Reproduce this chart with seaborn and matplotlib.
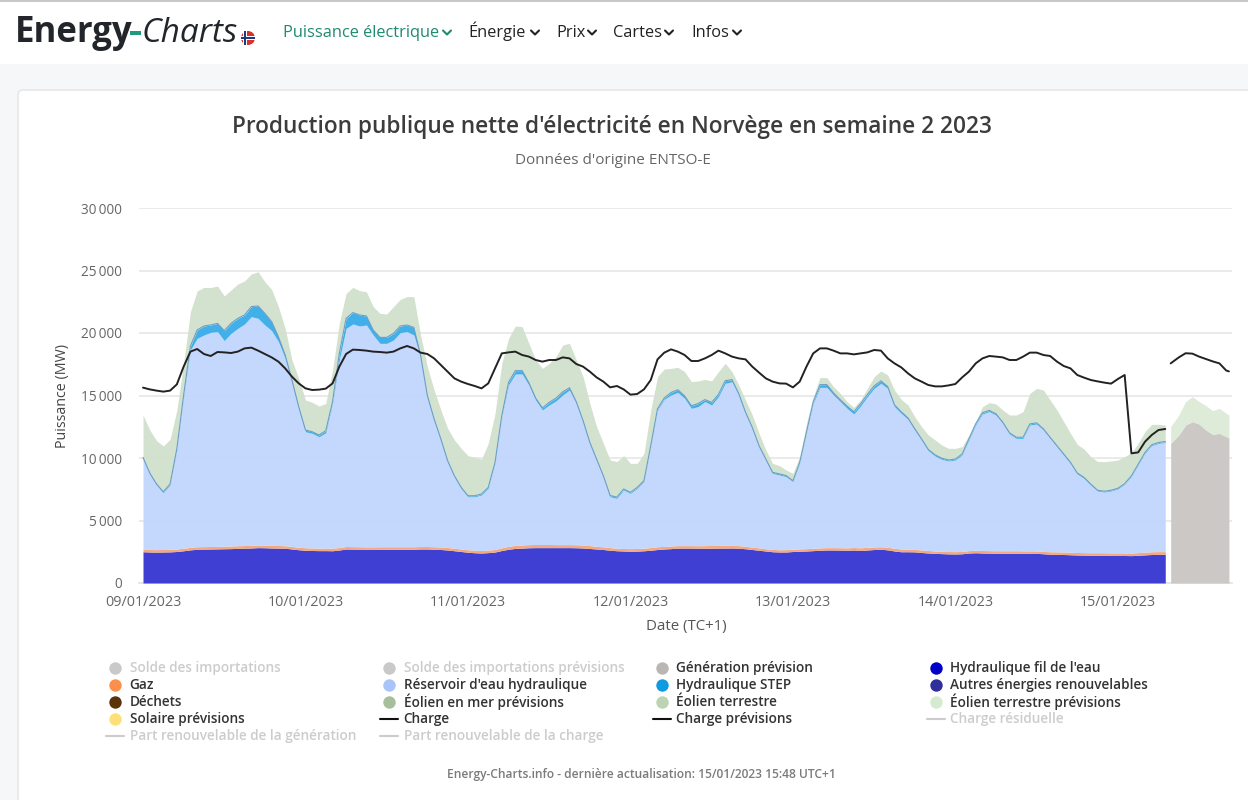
import numpy as np
import pandas as pd
import matplotlib
matplotlib.use('Agg')
import matplotlib.pyplot as plt
from matplotlib.patches import Circle, FancyBboxPatch, Rectangle
import seaborn as sns

# hourly values, MW, starting 09/01/2023 00:00
base_top = [2500,2480,2470,2480,2490,2520,2580,2650,2700,2710,
    2720,2730,2740,2750,2770,2790,2800,2830,2820,2800,
    2790,2780,2720,2660,2620,2600,2590,2590,2580,2640,
    2720,2710,2700,2690,2690,2700,2700,2700,2700,2700,
    2700,2720,2720,2700,2680,2640,2580,2520,2460,2420,
    2400,2430,2480,2600,2700,2770,2790,2820,2830,2830,
    2830,2830,2830,2830,2820,2800,2760,2720,2680,2620,
    2580,2560,2540,2550,2580,2620,2680,2720,2750,2790,
    2790,2790,2780,2780,2780,2790,2790,2800,2780,2740,
    2680,2620,2560,2500,2480,2480,2520,2540,2560,2590,
    2620,2640,2640,2630,2620,2640,2600,2640,2680,2700,
    2650,2560,2500,2500,2490,2440,2400,2370,2350,2330,
    2320,2340,2400,2420,2400,2390,2380,2380,2380,2380,
    2380,2370,2370,2340,2300,2290,2280,2260,2240,2230,
    2220,2220,2220,2210,2210,2200,2190,2220,2250,2280,
    2290,2290]
gas_top = [2700,2680,2670,2680,2690,2720,2780,2850,2900,2910,
    2920,2930,2940,2960,2980,3000,3010,3040,3030,3010,
    3000,2980,2920,2860,2820,2800,2790,2790,2780,2840,
    2920,2910,2900,2890,2890,2900,2900,2900,2900,2900,
    2900,2920,2920,2900,2880,2840,2780,2720,2660,2620,
    2600,2630,2680,2820,2930,3010,3040,3070,3080,3080,
    3080,3070,3070,3070,3060,3040,2990,2940,2890,2830,
    2780,2760,2750,2760,2790,2830,2900,2930,2960,2990,
    2990,2990,2980,2990,3000,3010,3010,3010,2990,2940,
    2870,2810,2740,2690,2660,2670,2710,2730,2750,2780,
    2810,2830,2830,2820,2810,2840,2810,2860,2880,2900,
    2860,2780,2720,2710,2690,2640,2600,2560,2540,2520,
    2510,2530,2590,2620,2600,2590,2580,2580,2580,2580,
    2570,2570,2560,2530,2500,2490,2480,2460,2440,2430,
    2420,2420,2420,2410,2410,2400,2400,2430,2470,2500,
    2510,2510]
reservoir_top = [9970,8720,7840,7220,7840,10640,14900,18640,19570,19840,
    20050,20110,19390,19970,20370,20720,21310,21170,20640,20190,
    19310,17970,16110,13970,12100,11970,11700,12020,14370,17840,
    20370,20720,20560,20640,19840,19170,19170,19440,20030,20110,
    19840,18100,14900,13040,11440,9700,8500,7570,6900,6900,
    7040,7570,9570,13300,15840,16720,16720,15840,14640,13840,
    14240,14560,15040,15440,14370,12910,11170,9840,8510,6900,
    6770,7440,7170,7570,8110,10910,13840,14690,15040,15250,
    14770,13970,14110,14510,14240,14910,15970,16100,15040,13570,
    12370,10910,9840,8770,8640,8510,8110,9570,11970,14370,
    15650,15650,15040,14510,13970,13520,14160,14910,15570,15970,
    15570,14110,13570,13090,12240,11440,10590,10160,9890,9760,
    9840,10240,11440,12640,13520,13710,13440,12770,11920,11570,
    11570,12640,12720,12240,11570,10910,10240,9570,8720,8370,
    7840,7360,7280,7360,7520,7890,8510,9440,10370,10990,
    11170,11250]
step_mw = [80,80,80,80,80,100,120,300,670,720,
    590,660,800,800,800,720,800,990,930,720,
    400,270,130,130,140,130,140,170,140,530,
    800,910,880,720,400,480,480,530,530,530,
    610,140,100,90,80,80,80,80,80,80,
    80,80,80,100,230,270,270,180,150,170,
    210,230,250,180,130,90,80,70,70,100,
    100,80,80,80,80,80,100,120,200,210,
    200,210,250,160,210,180,220,170,110,90,
    80,70,70,80,90,80,70,70,80,120,
    220,220,170,150,180,180,190,170,200,200,
    150,140,130,110,100,90,90,90,90,80,
    80,80,100,100,100,100,90,90,90,90,
    90,90,90,90,80,80,80,80,80,80,
    70,60,60,60,60,60,60,70,70,70,
    70,70]
wind_top = [13440,12240,11390,10960,11490,13840,17570,21700,23360,23650,
    23630,23760,22960,23440,23920,24160,24720,24900,24100,23490,
    22110,20370,17840,16370,14640,14450,14160,14370,17040,20770,
    23170,23650,23390,23300,22110,21570,21520,22110,22690,22910,
    22910,19840,17300,15440,13840,12370,11440,10770,10190,10050,
    9920,11170,13570,17570,19570,20560,20510,19170,17840,17170,
    17570,18110,19040,19170,17840,16510,14370,12510,11170,9840,
    9710,10190,9570,9570,10370,13840,16510,17120,17170,17250,
    16910,16110,16160,16290,16160,16910,17570,16910,15840,14640,
    13440,11970,10640,9570,9390,9040,8770,10110,12770,14900,
    16450,16430,15710,15170,14510,14050,14640,15570,16510,16960,
    16640,15440,14690,14240,13300,12510,11840,11440,11040,10770,
    10770,10910,11840,12910,14110,14430,14320,13840,13440,13440,
    13710,15170,15570,15440,14640,13840,12910,11970,11090,10720,
    10110,9730,9710,9760,9840,10110,10430,11170,12110,12690,
    12690,12640]
load_mw = [15630,15490,15390,15310,15390,15890,17310,18510,18720,18320,
    18160,18480,18450,18400,18510,18770,18830,18590,18320,18050,
    17710,17170,16510,15970,15570,15440,15470,15550,15970,17310,
    18320,18670,18640,18590,18510,18480,18430,18510,18770,18960,
    18770,18430,18320,17970,17440,16900,16370,16110,15920,15760,
    15570,15970,17170,18370,18450,18510,18240,18110,17840,17710,
    17840,17840,18050,17970,17520,17310,16910,16450,16110,15650,
    15760,15490,15070,15120,15490,16240,17890,18430,18690,18510,
    18240,17760,17760,17970,18240,18590,18370,18110,17970,17890,
    17310,16830,16370,16110,15970,15950,15650,16110,17310,18370,
    18770,18770,18590,18370,18370,18290,18370,18450,18640,18590,
    17970,17570,17250,16770,16370,16110,15840,15730,15730,15810,
    15920,16450,16910,17570,17970,18160,18110,18050,17840,17840,
    18110,18430,18430,18240,18160,17710,17360,17170,16640,16430,
    16240,16130,16030,15950,16320,16640,10370,10450,11300,11840,
    12240,12320]

# forecast block after the gap
fc_hours = [151.8,153,154,155,156,157,158,159,160,160.4]
fc_generation = [11170,11840,12640,12910,12720,12240,11890,11970,11710,11630]
fc_wind = [12510,13440,14510,14910,14510,14190,13790,13970,13570,13440]
fc_load = [17570,18050,18380,18350,18110,17920,17730,17570,17000,16930]

y_ticks = [0,5000,10000,15000,20000,25000,30000]
y_labels = ['0','5\u2009000','10\u2009000','15\u2009000','20\u2009000','25\u2009000','30\u2009000']
day_labels = ['09/01/2023','10/01/2023','11/01/2023','12/01/2023','13/01/2023','14/01/2023','15/01/2023']

legend_rows = [
    [('Solde des importations','#c9c9c9',False,'dot'),('Solde des importations prévisions','#c9c9c9',False,'dot'),('Génération prévision','#b9b6b4',True,'dot'),("Hydraulique fil de l'eau",'#0000c8',True,'dot')],
    [('Gaz','#fb8f4c',True,'dot'),("Réservoir d'eau hydraulique",'#a8c4f8',True,'dot'),('Hydraulique STEP','#0d9be2',True,'dot'),('Autres énergies renouvelables','#2f2f9c',True,'dot')],
    [('Déchets','#5a3408',True,'dot'),('Éolien en mer prévisions','#a6c09c',True,'dot'),('Éolien terrestre','#bcd4b4',True,'dot'),('Éolien terrestre prévisions','#d3ebcf',True,'dot')],
    [('Solaire prévisions','#fde07a',True,'dot'),('Charge','#111111',True,'line'),('Charge prévisions','#111111',True,'line'),('Charge résiduelle','#cccccc',False,'line')],
    [('Part renouvelable de la génération','#cccccc',False,'line'),('Part renouvelable de la charge','#cccccc',False,'line')],
]

sns.set_theme(style='white')
plt.rcParams['font.family'] = ['Open Sans', 'DejaVu Sans']

fig = plt.figure(figsize=(12.48, 8), dpi=100, facecolor='white')

# page drawn in pixel coordinates
page = fig.add_axes([0, 0, 1, 1], zorder=0)
page.set_xlim(0, 1248)
page.set_ylim(800, 0)
page.axis('off')
page.add_patch(Rectangle((0, 64), 1248, 736, color='#f6f7f9', lw=0))
page.add_patch(Rectangle((0, 0), 1248, 1.5, color='#c8c8c8', lw=0))
page.add_patch(FancyBboxPatch((18, 90), 1260, 760, boxstyle='round,pad=0,rounding_size=5',
                              fc='white', ec='#e4e4e4', lw=1))

# logo and menu
page.text(15, 42, 'Energy', fontsize=25, fontweight='bold', color='#22262b', va='baseline')
page.add_patch(Rectangle((130, 31), 11, 4, color='#1f9a7c', lw=0))
page.text(142, 42, 'Charts', fontsize=24, style='italic', color='#22262b', va='baseline')
page.add_patch(Circle((248, 38), 7, color='#d8322b', lw=0))
flag_v = Rectangle((243, 31), 3.5, 14, color='white', lw=0)
flag_h = Rectangle((241, 36), 14, 3.5, color='white', lw=0)
flag_v2 = Rectangle((244, 31), 1.6, 14, color='#1f3a80', lw=0)
flag_h2 = Rectangle((241, 37), 14, 1.6, color='#1f3a80', lw=0)
for p in [flag_v, flag_h, flag_v2, flag_h2]:
    page.add_patch(p)

menu = [('Puissance électrique', 283, 442, '#1f8a70'), ('Énergie', 468, 530, '#222222'),
        ('Prix', 556, 587, '#222222'), ('Cartes', 613, 664, '#222222'), ('Infos', 691, 732, '#222222')]
for name, x, arrow_x, col in menu:
    page.text(x, 37, name, fontsize=11.75, color=col, va='baseline')
    page.plot([arrow_x + 1, arrow_x + 5, arrow_x + 9], [30.5, 34.5, 30.5], color=col, lw=1.5)

page.text(612, 133, "Production publique nette d'électricité en Norvège en semaine 2 2023",
          fontsize=16.3, fontweight='semibold', color='#3c3c3c', ha='center', va='baseline')
page.text(612.5, 164, "Données d'origine ENTSO-E", fontsize=11, color='#666666', ha='center', va='baseline')
page.text(641.5, 778, 'Energy-Charts.info - dernière actualisation: 15/01/2023 15:48 UTC+1',
          fontsize=8.65, fontweight='semibold', color='#7b7b7b', ha='center', va='baseline')

# legend
marker_x = [115, 389, 662, 936]
for r, row in enumerate(legend_rows):
    y = 668 + r * 17
    for c, (label, col, active, kind) in enumerate(row):
        if kind == 'dot':
            page.scatter([marker_x[c]], [y - 0.5], s=80, color=col, lw=0)
        else:
            page.plot([marker_x[c] - 9, marker_x[c] + 9], [y - 0.5, y - 0.5], color=col, lw=1.5)
        page.text(marker_x[c] + 14.5, y, label, fontsize=9.8, fontweight='semibold',
                  color='#333333' if active else '#cccccc', va='center')

# chart
ax = fig.add_axes([139 / 1248, (800 - 583) / 800, 1093 / 1248, 375 / 800], zorder=1)
ax.patch.set_alpha(0)
hours = np.arange(len(wind_top))
base_top, gas_top = np.array(base_top), np.array(gas_top)
reservoir_top, step_mw = np.array(reservoir_top), np.array(step_mw)
step_top = reservoir_top + step_mw

ax.fill_between(hours, 0, base_top, color='#3f3fd3', lw=0, zorder=3)
ax.fill_between(hours, base_top, gas_top, color='#f4a87e', lw=0, zorder=3)
ax.fill_between(hours, gas_top, reservoir_top, color='#c2d6fc', lw=0, alpha=0.96, zorder=3)
ax.fill_between(hours, reservoir_top, step_top, color='#42b0e8', lw=0, zorder=3)
ax.fill_between(hours, step_top, wind_top, color='#d2e0cd', lw=0, alpha=0.96, zorder=3)
ax.plot(hours, step_top, color='#6a9fc8', lw=0.8, zorder=4)
ax.fill_between(fc_hours, 0, fc_generation, color='#cbc8c5', lw=0, zorder=3)
ax.fill_between(fc_hours, fc_generation, fc_wind, color='#deebd9', lw=0, zorder=3)

load_df = pd.DataFrame({'hour': hours, 'load': load_mw})
fc_df = pd.DataFrame({'hour': fc_hours, 'load': fc_load})
sns.lineplot(data=load_df, x='hour', y='load', ax=ax, color='#222222', lw=1.4, zorder=5)
sns.lineplot(data=fc_df, x='hour', y='load', ax=ax, color='#222222', lw=1.4, zorder=5)

ax.set_xlim(-4 / 6.77, 1089 / 6.77)
ax.set_ylim(0, 30000)
ax.set_yticks(y_ticks, y_labels)
ax.set_xticks(np.arange(7) * 24, day_labels)
ax.tick_params(axis='x', length=0, labelsize=10.4, labelcolor='#666666', pad=9)
ax.tick_params(axis='y', length=0, labelsize=9.8, labelcolor='#666666', pad=12)
ax.grid(axis='y', color='#e6e6e6', lw=1.2)
ax.set_axisbelow(True)
for side in ['top', 'left', 'right']:
    ax.spines[side].set_visible(False)
ax.spines['bottom'].set_color('#dfe3ee')
ax.spines['bottom'].set_linewidth(1.2)
ax.set_xlabel('Date (TC+1)', fontsize=10.8, color='#555555')
ax.set_ylabel('Puissance (MW)', fontsize=10.3, color='#444444')
ax.xaxis.set_label_coords((686 - 139) / 1093, -36 / 375)
ax.yaxis.set_label_coords((70 - 139) / 1093, (583 - 396) / 375)

fig.savefig('out.png', dpi=100)
